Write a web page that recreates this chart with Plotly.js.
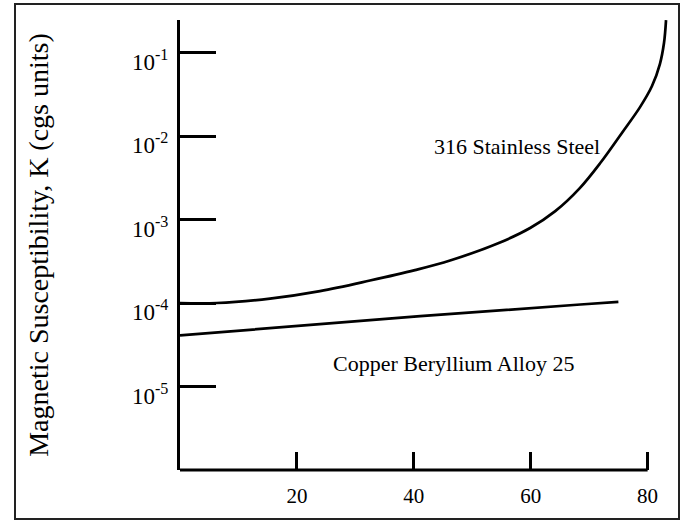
<!DOCTYPE html>
<html>
<head>
<meta charset="utf-8">
<script src="https://cdn.plot.ly/plotly-3.0.1.min.js"></script>
<style>html,body{margin:0;padding:0;background:#fff;}#chart{width:686px;height:521px;}</style>
</head>
<body>
<div id="chart"></div>
<script>
// Stainless steel (316) susceptibility vs x
const steelX = [0, 6.3, 15.4, 23.95, 32.5, 40.2, 46.2, 54.75, 59.9, 64.2, 68.4, 71.9, 75.6, 78.7, 80.75, 82.1, 82.8, 83.15];
const steelY = [1.0e-4, 1.0e-4, 1.13e-4, 1.39e-4, 1.86e-4, 2.48e-4, 3.23e-4, 5.31e-4, 7.91e-4, 1.26e-3, 2.38e-3, 4.75e-3, 1.09e-2, 2.22e-2, 3.97e-2, 7.28e-2, 0.130, 0.245];
// Copper Beryllium Alloy 25
const cuX = [0, 41.1, 68.5, 75];
const cuY = [4.1e-5, 6.95e-5, 9.6e-5, 1.03e-4];
// tick labels
const yTickVals = [1e-5, 1e-4, 1e-3, 1e-2, 1e-1];
const yTickText = ['10<sup>-5</sup>', '10<sup>-4</sup>', '10<sup>-3</sup>', '10<sup>-2</sup>', '10<sup>-1</sup>'];
const xTickVals = [20, 40, 60, 80];
const xTickText = ['20', '40', '60', '80'];
const seriesLabels = ['316 Stainless Steel', 'Copper Beryllium Alloy 25'];
const yTitle = 'Magnetic Susceptibility, K (cgs units)';

const FONT = 'Liberation Serif, Times New Roman, serif';

const traces = [
  {x: steelX, y: steelY, mode: 'lines', line: {color: '#000', width: 2.7, shape: 'spline', smoothing: 1}, hoverinfo: 'skip'},
  {x: cuX, y: cuY, mode: 'lines', line: {color: '#000', width: 2.7}, hoverinfo: 'skip'}
];

const layout = {
  width: 686, height: 521,
  margin: {l: 180, r: 15, t: 20, b: 51, pad: 0},
  paper_bgcolor: '#fff', plot_bgcolor: '#fff',
  showlegend: false,
  font: {family: FONT, color: '#000', size: 22},
  xaxis: {
    range: [0, 84], showgrid: false, zeroline: false, showline: false,
    tickvals: xTickVals, ticktext: xTickText,
    ticks: 'inside', ticklen: 18, tickwidth: 3, tickcolor: '#000',
    tickfont: {family: FONT, size: 21, color: '#000'},
    ticklabelstandoff: 11
  },
  yaxis: {
    type: 'log', range: [-6, -0.61], showgrid: false, zeroline: false,
    showline: true, linewidth: 3, linecolor: '#000',
    tickvals: yTickVals, ticktext: yTickText,
    ticks: 'inside', ticklen: 36, tickwidth: 3, tickcolor: '#000',
    tickfont: {family: FONT, size: 23, color: '#000'},
    ticklabelshift: 9, ticklabelstandoff: 4,
    title: {text: yTitle, font: {family: FONT, size: 28, color: '#000'}, standoff: 76}
  },
  shapes: [
    {type: 'line', xref: 'x', yref: 'paper', x0: 0, x1: 80, y0: 0, y1: 0, line: {color: '#000', width: 3}},
    {type: 'rect', xref: 'paper', yref: 'paper',
     x0: (15 - 180) / 491, x1: (679 - 180) / 491,
     y0: (470 - 519) / 450, y1: (470 - 4) / 450,
     line: {color: '#222', width: 2}, fillcolor: 'rgba(0,0,0,0)'}
  ],
  annotations: [
    {x: 43.06, y: -2.12, xref: 'x', yref: 'y', text: seriesLabels[0], showarrow: false, xanchor: 'left', yanchor: 'middle', font: {family: FONT, size: 22, color: '#000'}},
    {x: 25.9, y: -4.72, xref: 'x', yref: 'y', text: seriesLabels[1], showarrow: false, xanchor: 'left', yanchor: 'middle', font: {family: FONT, size: 22, color: '#000'}}
  ]
};

Plotly.newPlot('chart', traces, layout, {staticPlot: true, displayModeBar: false});
</script>
</body>
</html>
